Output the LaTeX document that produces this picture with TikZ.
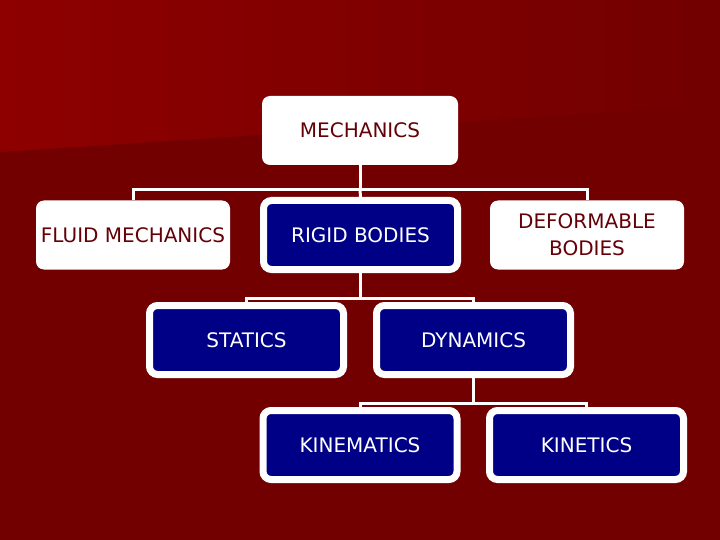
\documentclass[tikz,border=0pt]{standalone}
\usepackage{fontspec}
\setmainfont{DejaVu Sans}
\usepackage{tikz}
\usetikzlibrary{positioning}
\usepackage{xcolor}
\definecolor{mkdark}{RGB}{114,0,0}
\definecolor{mklight}{RGB}{142,0,0}
\definecolor{mknavy}{RGB}{0,0,134}
\definecolor{mktext}{RGB}{100,0,8}
\tikzset{
    plain/.style={
        fill=white,rounded corners=8pt,align=center,
        minimum width=194pt,minimum height=69pt,
        text=mktext,font=\fontsize{20}{27}\selectfont
    },
    navy/.style={
        draw=white,line width=7pt,fill=mknavy,rounded corners=8pt,
        align=center,minimum width=194pt,minimum height=69pt,
        text=white,font=\fontsize{20}{27}\selectfont
    },
    link/.style={
        draw=white,line width=3pt
    }
}

\begin{document}
\begin{tikzpicture}[x=1pt,y=-1pt]

% background
\fill[mkdark] (0,0) rectangle (720,540);
\shade[left color=mklight,right color=mkdark]
(0,0) -- (720,0) -- (720,105) -- (0,152) -- cycle;
\useasboundingbox (0,0) rectangle (720,540);

% top level
\node[plain,minimum width=196pt] (mech) at (360,130.5) {MECHANICS};

\node[plain] (fluid) at (133,235) {FLUID MECHANICS};
\node[navy] (rigid) at (360.5,235) {RIGID BODIES};
\node[plain] (deform) at (587,235) {DEFORMABLE\\BODIES};

\node[navy] (stat) at (246.5,340) {STATICS};
\node[navy] (dyn) at (473.5,340) {DYNAMICS};

\node[navy] (kinem) at (360,445) {KINEMATICS};
\node[navy] (kinet) at (586.5,445) {KINETICS};

% connectors
\coordinate (j1) at (360,190);
\coordinate (j2) at (360.5,298);
\coordinate (j3) at (473.5,403);

\draw[link] (mech.south) -- (j1);
\draw[link] (j1) -| (fluid.north);
\draw[link] (j1) -| (deform.north);
\draw[link] (j1) -- (rigid.north);

\draw[link] (rigid.south) -- (j2);
\draw[link] (j2) -| (stat.north);
\draw[link] (j2) -| (dyn.north);

\draw[link] (dyn.south) -- (j3);
\draw[link] (j3) -| (kinem.north);
\draw[link] (j3) -| (kinet.north);

\end{tikzpicture}
\end{document}
